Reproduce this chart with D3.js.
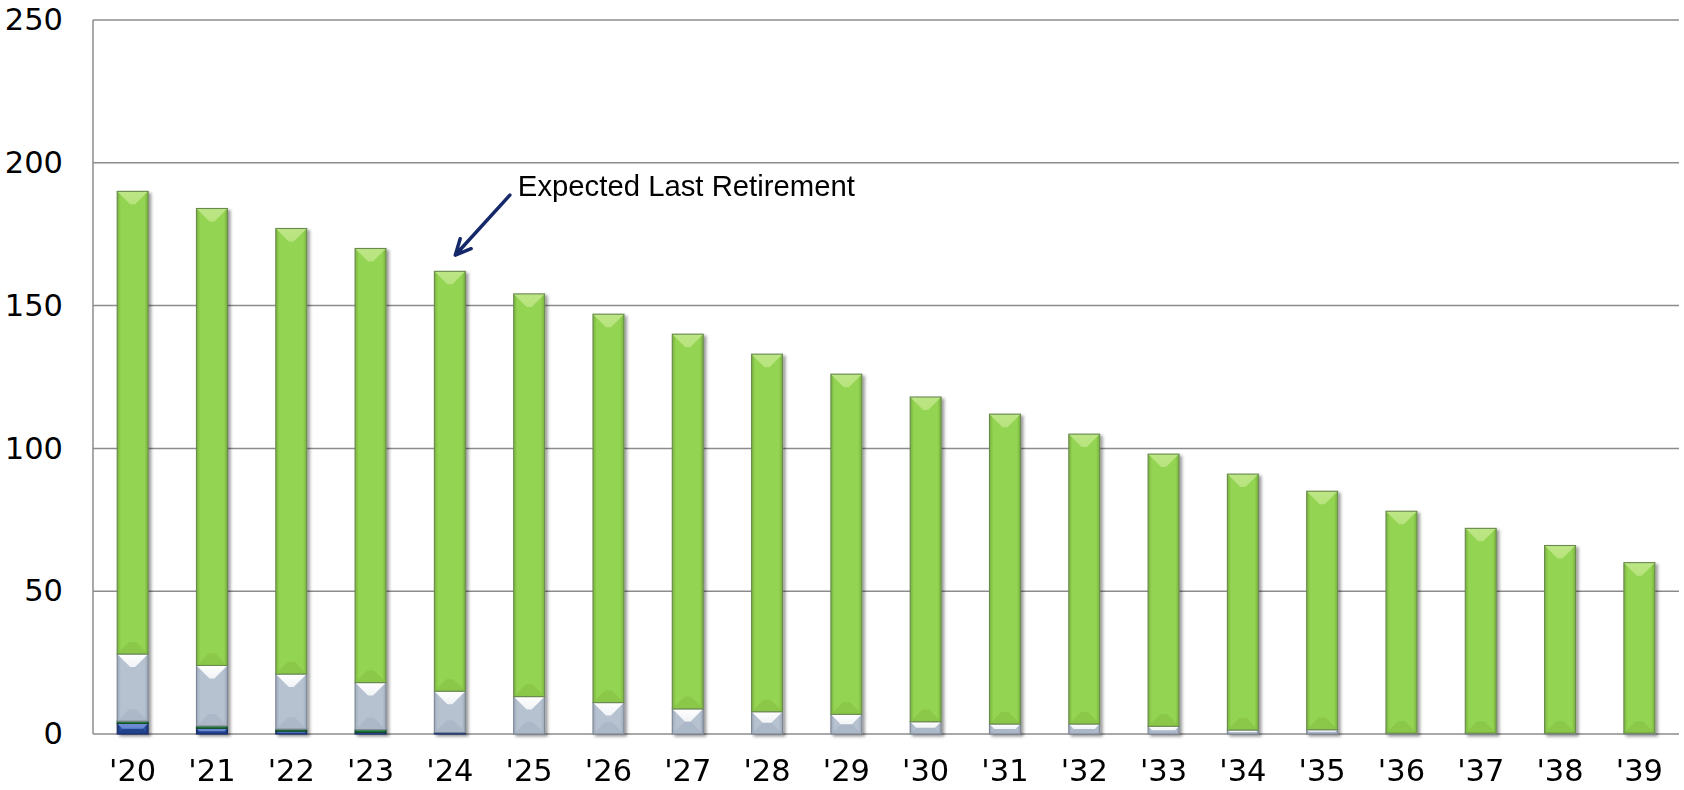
<!DOCTYPE html>
<html lang="en">
	<head>
		<meta charset="utf-8">
		<title>Expected retirements, stacked</title>
		<script type="text/javascript" src="https://cdn.jsdelivr.net/npm/d3@7"></script>
		<style type="text/css">
			body {
					margin:0;
					background-color:#ffffff;
			}
			.axis text {
					font-family:"DejaVu Sans", Verdana, sans-serif;
					font-size:30.5px;
					fill:#000000;
			}
		</style>
	</head>
	<body>

		<script type="text/javascript">

			//Data
			var years = ["'20","'21","'22","'23","'24","'25","'26","'27","'28","'29",
			             "'30","'31","'32","'33","'34","'35","'36","'37","'38","'39"];
			var blueVals      = [3.7, 2.0, 1.0, 0.6, 0.5, 0, 0, 0, 0, 0, 0, 0, 0, 0, 0, 0, 0, 0, 0, 0];
			var darkGreenVals = [0.8, 0.8, 0.7, 0.9, 0, 0, 0, 0, 0, 0, 0, 0, 0, 0, 0, 0, 0, 0, 0, 0];
			var grayVals      = [23.5, 21.2, 19.3, 16.5, 14.5, 13.1, 11, 8.8, 7.8, 6.9,
			                     4.3, 3.5, 3.5, 2.7, 1.4, 1.5, 0.3, 0.3, 0.3, 0.3];
			var greenVals     = [162, 160, 156, 152, 147, 141, 136, 131.2, 125.2, 119.1,
			                     113.7, 108.5, 101.5, 95.3, 89.6, 83.5, 77.7, 71.7, 65.7, 59.7];
			var yTicks = [0, 50, 100, 150, 200, 250];
			var annYear = "'24";
			var annText = "Expected Last Retirement";

			//Width and height
			var w = 1684;
			var h = 790;
			var margin = {top: 20, right: 5, bottom: 56, left: 93};

			//Series keys and looks (bottom to top)
			var keys = ["blue", "darkGreen", "gray", "green"];
			var looks = {
				blue:      {base:"#2f55a9", top:"#6d8fd6", bottom:"#223f86", edge:"#1c3272", stroke:"#1b2d66"},
				darkGreen: {base:"#227a3b", top:"#3f9a57", bottom:"#1a6530", edge:"#165a2a", stroke:"#155026"},
				gray:      {base:"#b7c2d1", top:"#ffffff", bottom:"#a9b4c4", edge:"#9ea9b9", stroke:"#7d8694"},
				green:     {base:"#94d452", top:"#bde685", bottom:"#88c449", edge:"#79b33e", stroke:"#6a8a4e"}
			};

			var table = years.map(function(y, i) {
				return {year: y, blue: blueVals[i], darkGreen: darkGreenVals[i], gray: grayVals[i], green: greenVals[i]};
			});
			var series = d3.stack().keys(keys)(table);

			//Scales
			var xScale = d3.scaleBand()
						   .domain(years)
						   .range([margin.left, w - margin.right])
						   .paddingInner(0.61)
						   .paddingOuter(0.305);

			var yScale = d3.scaleLinear()
						   .domain([0, 250])
						   .range([h - margin.bottom, margin.top]);

			//Create SVG element
			var svg = d3.select("body")
						.append("svg")
						.attr("width", w)
						.attr("height", h);

			var defs = svg.append("defs");

			var shadow = defs.append("filter")
							 .attr("id", "shadow")
							 .attr("x", "-20%").attr("y", "-5%")
							 .attr("width", "150%").attr("height", "115%");
			shadow.append("feDropShadow")
				  .attr("dx", 2.5).attr("dy", 2)
				  .attr("stdDeviation", 1.8)
				  .attr("flood-color", "#000")
				  .attr("flood-opacity", 0.4);

			//Side shading gradient per series
			keys.forEach(function(k) {
				var g = defs.append("linearGradient")
							.attr("id", "side-" + k)
							.attr("x1", "0").attr("x2", "1").attr("y1", "0").attr("y2", "0");
				g.append("stop").attr("offset", "0").attr("stop-color", looks[k].edge);
				g.append("stop").attr("offset", "0.12").attr("stop-color", looks[k].base);
				g.append("stop").attr("offset", "0.88").attr("stop-color", looks[k].base);
				g.append("stop").attr("offset", "1").attr("stop-color", looks[k].edge);

				var t = defs.append("linearGradient")
							.attr("id", "top-" + k)
							.attr("x1", "0").attr("x2", "0").attr("y1", "0").attr("y2", "1");
				t.append("stop").attr("offset", "0").attr("stop-color", looks[k].top);
				t.append("stop").attr("offset", "1").attr("stop-color", looks[k].top).attr("stop-opacity", k == "gray" ? 0.8 : 0.85);
			});

			//Gridlines
			svg.append("g")
			   .selectAll("line")
			   .data(yTicks)
			   .enter()
			   .append("line")
			   .attr("x1", margin.left)
			   .attr("x2", w - margin.right)
			   .attr("y1", function(d) { return yScale(d); })
			   .attr("y2", function(d) { return yScale(d); })
			   .attr("stroke", "#8c8c8c")
			   .attr("stroke-width", 1.5);

			svg.append("line")
			   .attr("x1", margin.left).attr("x2", margin.left)
			   .attr("y1", yScale(250)).attr("y2", yScale(0))
			   .attr("stroke", "#8c8c8c")
			   .attr("stroke-width", 1.5);

			//Bars
			var bw = xScale.bandwidth();
			var bars = svg.append("g").attr("filter", "url(#shadow)");

			series.forEach(function(s) {
				var k = s.key;
				var look = looks[k];
				var segs = s.map(function(d) {
					var x = xScale(d.data.year);
					var y = yScale(d[1]);
					var hh = yScale(d[0]) - yScale(d[1]);
					return {x: x, y: y, h: hh};
				}).filter(function(d) { return d.h > 0.2; });

				var g = bars.append("g");

				var seg = g.selectAll("g")
						   .data(segs)
						   .enter()
						   .append("g");

				seg.append("rect")
				   .attr("x", function(d) { return d.x; })
				   .attr("y", function(d) { return d.y; })
				   .attr("width", bw)
				   .attr("height", function(d) { return d.h; })
				   .attr("fill", "url(#side-" + k + ")");

				//bottom bevel
				seg.filter(function(d) { return d.h > 4; })
				   .append("polygon")
				   .attr("points", function(d) {
						var b = Math.min(12, d.h / 2);
						var yb = d.y + d.h;
						return [[d.x, yb], [d.x + b, yb - b], [d.x + bw - b, yb - b], [d.x + bw, yb]].join(" ");
				   })
				   .attr("fill", look.bottom)
				   .attr("opacity", 0.8);

				//top bevel
				seg.filter(function(d) { return d.h > 2; })
				   .append("polygon")
				   .attr("points", function(d) {
						var b = Math.min(13, d.h / 2, bw / 2 - 2);
						return [[d.x, d.y], [d.x + bw, d.y], [d.x + bw - b, d.y + b], [d.x + b, d.y + b]].join(" ");
				   })
				   .attr("fill", "url(#top-" + k + ")");

				seg.append("rect")
				   .attr("x", function(d) { return d.x; })
				   .attr("y", function(d) { return d.y; })
				   .attr("width", bw)
				   .attr("height", function(d) { return d.h; })
				   .attr("fill", "none")
				   .attr("stroke", look.stroke)
				   .attr("stroke-width", 1.1);
			});

			//Y axis
			var yAxis = d3.axisLeft(yScale)
						  .tickValues(yTicks)
						  .tickSize(0)
						  .tickPadding(30);

			svg.append("g")
			   .attr("class", "axis")
			   .attr("transform", "translate(" + margin.left + ",0)")
			   .call(yAxis)
			   .call(function(g) { g.select(".domain").remove(); });

			//X axis
			var xAxis = d3.axisBottom(xScale)
						  .tickSize(0)
						  .tickPadding(25);

			svg.append("g")
			   .attr("class", "axis")
			   .attr("transform", "translate(0," + yScale(0) + ")")
			   .call(xAxis)
			   .call(function(g) { g.select(".domain").remove(); });

			//Annotation with arrow
			var ax = xScale(annYear) + bw / 2;
			var tip = [ax + 5.5, yScale(167.7)];
			var tail = [ax + 60, yScale(188.7)];
			var ang = Math.atan2(tail[1] - tip[1], tail[0] - tip[0]);
			var head = 17;

			svg.append("path")
			   .attr("d", "M" + tail + "L" + tip +
					"M" + [tip[0] + head * Math.cos(ang - 0.45), tip[1] + head * Math.sin(ang - 0.45)] +
					"L" + tip +
					"L" + [tip[0] + head * Math.cos(ang + 0.45), tip[1] + head * Math.sin(ang + 0.45)])
			   .attr("fill", "none")
			   .attr("stroke", "#14286a")
			   .attr("stroke-width", 3.5)
			   .attr("stroke-linecap", "round")
			   .attr("stroke-linejoin", "round");

			svg.append("text")
			   .attr("x", ax + 68)
			   .attr("y", yScale(188.4))
			   .attr("font-family", "'Liberation Sans', Arial, sans-serif")
			   .attr("font-size", 29.3)
			   .attr("fill", "#000")
			   .text(annText);

		</script>
	</body>
</html>
